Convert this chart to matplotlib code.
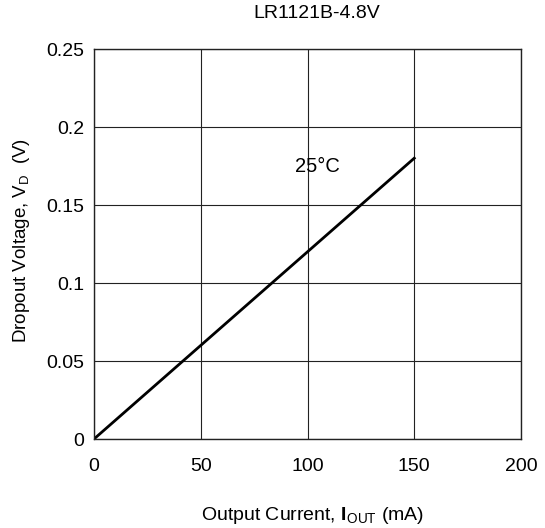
import matplotlib
matplotlib.use("Agg")
import matplotlib.pyplot as plt

# Dropout voltage vs output current, LR1121B-4.8V at 25°C
current_ma = [0, 50, 100, 150]
dropout_v = [0, 0.06, 0.12, 0.18]

x_ticks = [0, 50, 100, 150, 200]
y_ticks = [0, 0.05, 0.1, 0.15, 0.2, 0.25]
y_tick_labels = ["0", "0.05", "0.1", "0.15", "0.2", "0.25"]

plt.rcParams['font.family'] = ['Liberation Sans', 'DejaVu Sans']
plt.rcParams['mathtext.fontset'] = 'custom'
plt.rcParams['mathtext.rm'] = 'Liberation Sans'
plt.rcParams['mathtext.bf'] = 'Liberation Sans:bold'

fig = plt.figure(figsize=(5.45, 5.28), dpi=100)
ax = fig.add_axes([94 / 545, 89 / 528, 427 / 545, 390 / 528])

ax.plot(current_ma, dropout_v, color='black', linewidth=2.0)
ax.text(104.5, 0.175, "25°C", fontsize=14.5, ha='center', va='center')

ax.set_xlim(0, 200)
ax.set_ylim(0, 0.25)
ax.set_xticks(x_ticks)
ax.set_yticks(y_ticks)
ax.set_yticklabels(y_tick_labels)
ax.tick_params(length=0, labelsize=14)
ax.tick_params(axis='x', pad=14)
ax.tick_params(axis='y', pad=7)
ax.grid(True, color='#222222', linewidth=0.8)
for s in ax.spines.values():
    s.set_color('#222222')
    s.set_linewidth(1.0)

fig.text(317 / 545, 1 - 14 / 528, "LR1121B-4.8V", fontsize=14, ha='center', va='center')
fig.text(313 / 545, 1 - 515 / 528, r"Output Current, $\mathbf{I}_{\mathrm{OUT}}$ (mA)",
         fontsize=14, ha='center', va='center')
fig.text(22 / 545, 1 - 241 / 528, r"Dropout Voltage, V$_{\mathrm{D}}$  (V)",
         fontsize=13.5, ha='center', va='center', rotation=90)

fig.savefig("out.png", dpi=100)
